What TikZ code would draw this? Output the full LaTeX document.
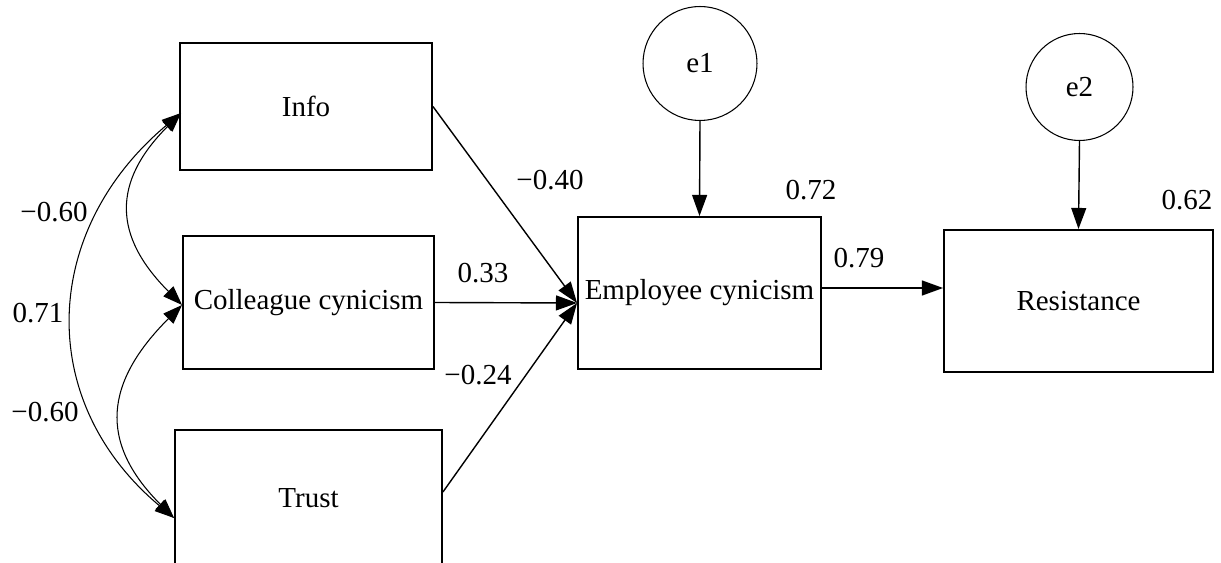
\documentclass[tikz,border=0pt]{standalone}
\usepackage{fontspec}
\setmainfont{Liberation Serif}
\usetikzlibrary{arrows.meta,calc}
\tikzset{
	every node/.style={font=\fontsize{16.5}{20}\selectfont},
	varbox/.style={draw, line width=1.1pt, inner sep=0pt},
	errterm/.style={draw, circle, line width=0.6pt, inner sep=0pt, minimum size=#1},
	effect/.style={-{Triangle[length=12pt,width=8.5pt]}, line width=0.8pt},
	covar/.style={{Triangle[length=11pt,width=8pt]}-{Triangle[length=11pt,width=8pt]}, line width=0.6pt},
	coef/.style={inner sep=0pt}
}

\begin{document}
\begin{tikzpicture}[x=0.02cm, y=0.02cm]
			\useasboundingbox (0, 0) rectangle (1221, -563);
			% observed variables
			\node[varbox, minimum width=5.04cm, minimum height=2.54cm] (info) at (306, -106.5) {Info};
			\node[varbox, minimum width=5.02cm, minimum height=2.66cm] (coll) at (308.5, -302.5) {Colleague cynicism};
			\node[varbox, minimum width=5.34cm, minimum height=2.72cm] (trust) at (308.5, -498) {Trust};
			\node[varbox, minimum width=4.86cm, minimum height=3.04cm] (emp) at (699.5, -293) {Employee cynicism};
			\node[varbox, minimum width=5.38cm, minimum height=2.84cm] (res) at (1078.5, -301) {Resistance};
			% error terms
			\node[errterm=2.28cm] (e1) at (700, -63.5) {e1};
			\node[errterm=2.14cm] (e2) at (1079.5, -87) {e2};
			% paths
			\coordinate (empin) at ($(emp.west)+(0, -10)$);
			\draw[effect] (info.east) -- (empin);
			\draw[effect] (coll.east) -- (empin);
			\draw[effect] ($(trust.east)+(0, 6)$) -- (empin);
			\draw[effect] ($(emp.east)+(0, 5)$) -- ($(res.west)+(0, 13)$);
			\draw[effect] (e1.south) -- (emp.north);
			\draw[effect] (e2.south) -- (res.north);
			% covariances
			\coordinate (infoL) at ($(info.west)+(2, -6.5)$);
			\coordinate (collL) at ($(coll.west)+(0, -2.5)$);
			\coordinate (trustL) at ($(trust.west)+(0, -20)$);
			\draw[covar] (infoL) to[out=225, in=135, looseness=1.3] (collL);
			\draw[covar] (collL) to[out=225, in=135, looseness=1.3] (trustL);
			\draw[covar] (infoL) to[out=220, in=140, looseness=1.15] (trustL);
			% estimates
			\node[coef] (b1) at (550, -180) {−0.40};
			\node[coef] (b2) at (483, -273) {0.33};
			\node[coef] (b3) at (478, -375) {−0.24};
			\node[coef] (b4) at (859, -258) {0.79};
			\node[coef] (r1) at (811, -190) {0.72};
			\node[coef] (r2) at (1187, -200) {0.62};
			\node[coef] (c1) at (54, -212) {−0.60};
			\node[coef] (c2) at (38, -313) {0.71};
			\node[coef] (c3) at (45, -412) {−0.60};
		\end{tikzpicture}
\end{document}
